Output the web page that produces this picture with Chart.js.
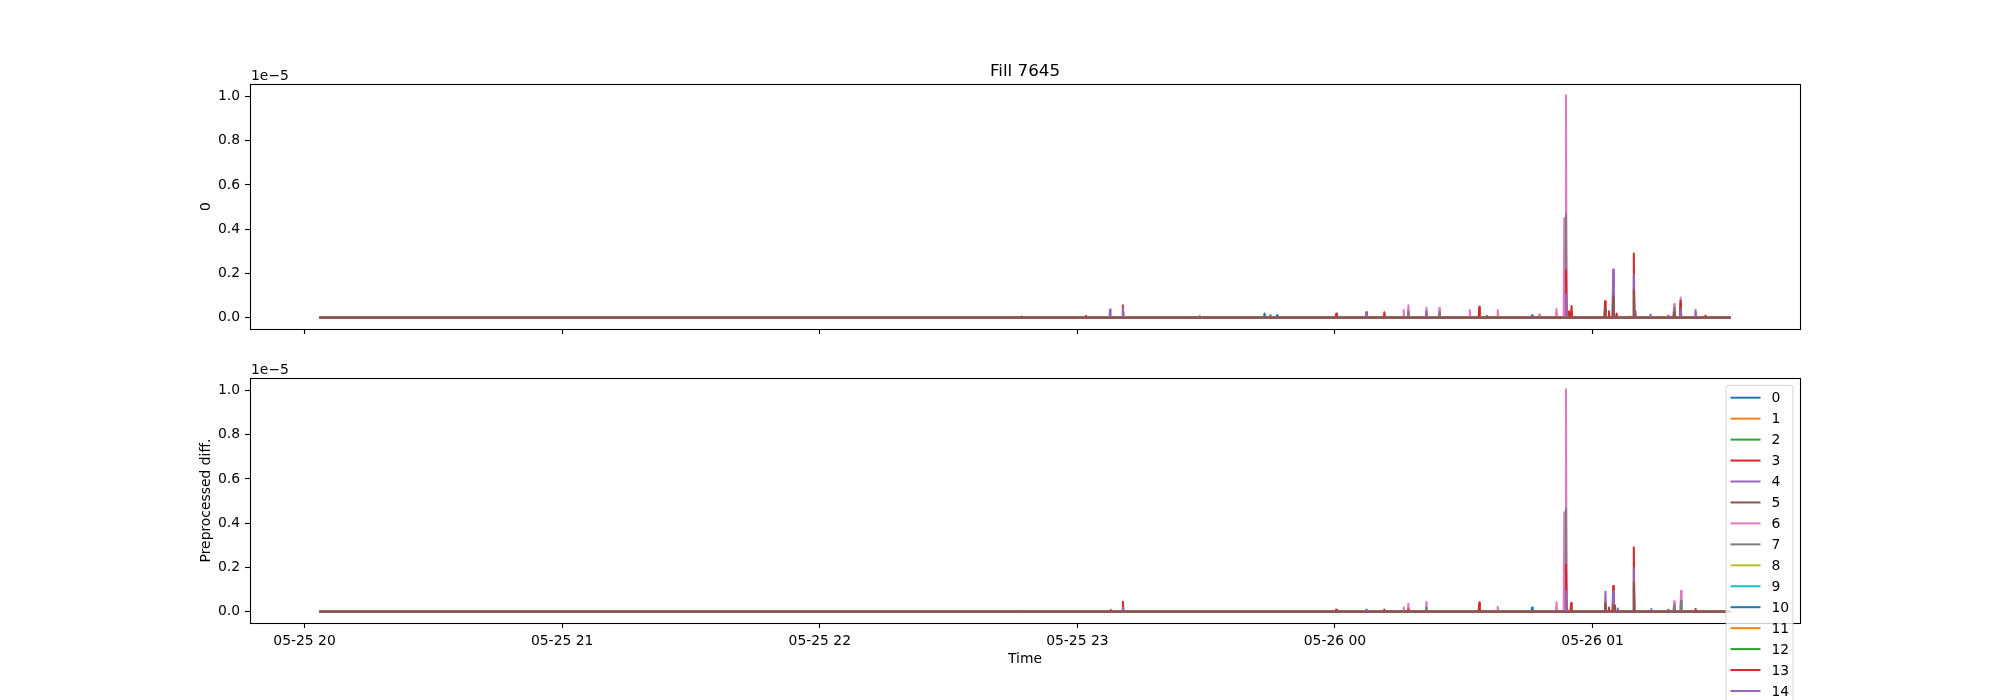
<!DOCTYPE html>
<html>
<head>
<meta charset="utf-8">
<script src="https://cdn.jsdelivr.net/npm/chart.js@4"></script>
<style>
body { margin: 0; background: #fff; }
#wrap { position: relative; width: 2000px; height: 700px; overflow: hidden; }
canvas { position: absolute; left: 0; top: 0; }
</style>
</head>
<body>
<div id="wrap">
<canvas id="topChart" width="2000" height="700"></canvas>
<canvas id="bottomChart" width="2000" height="700"></canvas>
</div>
<script>
// time: minutes after 05-25 20:00, values: units of 1e-5
const dataStart = 3.7
const dataEnd = 331.9
const tickMinutes = [0, 60, 120, 180, 240, 300]
const tickLabels = ['05-25 20', '05-25 21', '05-25 22', '05-25 23', '05-26 00', '05-26 01']
const yTicks = [0, 0.2, 0.4, 0.6, 0.8, 1.0]
const seriesNames = ['0', '1', '2', '3', '4', '5', '6', '7', '8', '9', '10', '11', '12', '13', '14', '15']
const colors = ['#1f77b4', '#ff7f0e', '#2ca02c', '#d62728', '#9467bd', '#8c564b', '#e377c2', '#7f7f7f',
    '#bcbd22', '#17becf', '#1f77b4', '#ff7f0e', '#2ca02c', '#d62728', '#9467bd', '#8c564b']

// spikes above the zero baseline, [minute, value]
const top6 = [[190.6, 0.03], [208.5, 0.01], [240.3, 0.015], [247.3, 0.012], [256.0, 0.035], [257.1, 0.057],
    [261.3, 0.047], [264.3, 0.045], [271.4, 0.035], [277.9, 0.035], [287.6, 0.015], [291.6, 0.04],
    [293.4, 0.45], [293.8, 1.005], [304.8, 0.21], [319.0, 0.062], [320.5, 0.092]]
const top7 = [[224.9, 0.012], [257.1, 0.03], [261.3, 0.02], [264.3, 0.025], [293.8, 0.468], [319.0, 0.045]]
const top10 = [[223.6, 0.02], [226.5, 0.012], [285.9, 0.012]]
const top11 = [[308.5, 0.006]]
const top12 = [[275.4, 0.01], [320.5, 0.065]]
const top13 = [[167.0, 0.006], [182.0, 0.01], [190.6, 0.057], [240.3, 0.02], [247.3, 0.025], [251.5, 0.025],
    [273.6, 0.05], [293.8, 0.215], [294.5, 0.03], [295.1, 0.053], [302.9, 0.075], [303.8, 0.03],
    [305.6, 0.02], [309.6, 0.29], [320.5, 0.078], [326.3, 0.01]]
const top14 = [[187.6, 0.038], [190.6, 0.047], [247.3, 0.02], [261.3, 0.03], [293.8, 0.107], [304.8, 0.218],
    [309.6, 0.196], [310.0, 0.03], [313.5, 0.015], [317.6, 0.01], [320.5, 0.04], [324.0, 0.035]]
const top15 = [[302.9, 0.045], [304.8, 0.098], [309.6, 0.128], [319.0, 0.025]]

const bottom6 = [[240.3, 0.008], [256.0, 0.02], [257.1, 0.037], [261.3, 0.045], [277.9, 0.023], [291.6, 0.043],
    [293.4, 0.45], [293.8, 1.005], [319.0, 0.048], [320.6, 0.095]]
const bottom7 = [[261.3, 0.02], [293.8, 0.468], [319.0, 0.03], [320.6, 0.05]]
const bottom10 = [[285.9, 0.02]]
const bottom11 = [[308.5, 0.005], [320.6, 0.01]]
const bottom13 = [[167.0, 0.005], [187.8, 0.008], [190.6, 0.046], [240.3, 0.01], [251.5, 0.01], [257.1, 0.01],
    [273.6, 0.042], [293.8, 0.214], [295.0, 0.04], [303.8, 0.02], [304.8, 0.117], [305.2, 0.03],
    [309.6, 0.291], [324.0, 0.013]]
const bottom14 = [[190.6, 0.02], [247.3, 0.01], [293.8, 0.093], [303.0, 0.091], [304.8, 0.093], [305.9, 0.015],
    [309.6, 0.198], [313.7, 0.013], [317.6, 0.01]]
const bottom15 = [[303.0, 0.04], [304.8, 0.03], [309.6, 0.133]]

const topSpikes = [[], [], [], [], [], [], top6, top7, [], [], top10, top11, top12, top13, top14, top15]
const bottomSpikes = [[], [], [], [], [], [], bottom6, bottom7, [], [], bottom10, [], [], bottom13, bottom14, bottom15]

const font = 'DejaVu Sans'
const fs = 13.9

function buildPoints(spikes) {
    let pts = [{x: dataStart, y: 0}]
    spikes.slice().sort((a, b) => a[0] - b[0]).forEach(s => {
        pts.push({x: s[0] - 0.15, y: 0}, {x: s[0], y: s[1]}, {x: s[0] + 0.15, y: 0})
    })
    pts.push({x: dataEnd, y: 0})
    return pts
}

function drawLegend(chart) {
    const ctx = chart.ctx
    const a = chart.chartArea
    const right = a.right - 7, top = a.top + 7.3, left = right - 67
    ctx.save()
    ctx.beginPath()
    ctx.roundRect(left, top, right - left, 360, 3)
    ctx.fillStyle = 'rgba(255,255,255,0.8)'
    ctx.fill()
    ctx.strokeStyle = 'rgba(204,204,204,0.8)'
    ctx.lineWidth = 1
    ctx.stroke()
    ctx.font = fs + 'px ' + font
    ctx.textBaseline = 'middle'
    ctx.textAlign = 'left'
    chart.data.datasets.forEach((ds, i) => {
        let y = top + 12.4 + i * 20.95
        ctx.strokeStyle = ds.borderColor
        ctx.lineWidth = 2
        ctx.beginPath()
        ctx.moveTo(left + 4.5, y)
        ctx.lineTo(left + 34.5, y)
        ctx.stroke()
        ctx.fillStyle = '#000'
        ctx.fillText(ds.label, left + 45.5, y + 1)
    })
    ctx.restore()
}

const decor = {
    id: 'decor',
    afterDraw(chart, args, opts) {
        const ctx = chart.ctx
        const a = chart.chartArea
        ctx.save()
        ctx.strokeStyle = '#000'
        ctx.lineWidth = 1.1
        ctx.strokeRect(Math.round(a.left) + 0.5, Math.round(a.top) + 0.5,
            Math.round(a.right - a.left), Math.round(a.bottom - a.top))
        ctx.fillStyle = '#000'
        ctx.font = fs + 'px ' + font
        ctx.textAlign = 'left'
        ctx.textBaseline = 'alphabetic'
        ctx.fillText('1e\u22125', a.left + 1, a.top - 4.5)
        if (opts.title) {
            ctx.font = '16.7px ' + font
            ctx.textAlign = 'center'
            ctx.fillText(opts.title, (a.left + a.right) / 2, a.top - 8.5)
        }
        ctx.restore()
        if (opts.legend) drawLegend(chart)
    }
}

function makeChart(id, spikes, yTitle, axisTop, axisBottom, isBottom, title) {
    const span = dataEnd - dataStart
    const datasets = seriesNames.map((name, i) => ({
        label: name,
        data: buildPoints(spikes[i]),
        borderColor: colors[i],
        borderWidth: 2,
        borderJoinStyle: 'round',
        borderCapStyle: 'square',
        pointRadius: 0,
        fill: false,
        tension: 0,
        order: seriesNames.length - i
    }))
    const config = {
        type: 'line',
        data: {datasets: datasets},
        plugins: [decor],
        options: {
            responsive: false,
            animation: false,
            events: [],
            layout: {padding: {left: 0, right: 200, top: axisTop, bottom: 0}},
            scales: {
                x: {
                    type: 'linear',
                    min: dataStart - 0.05 * span,
                    max: dataEnd + 0.05 * span,
                    afterBuildTicks: s => { s.ticks = tickMinutes.map(v => ({value: v})) },
                    afterFit: s => { s.height = 700 - axisBottom },
                    border: {display: false},
                    grid: {drawOnChartArea: false, drawTicks: true, tickLength: 5, tickColor: '#000', tickWidth: 1.1},
                    ticks: {
                        display: isBottom,
                        autoSkip: false,
                        maxRotation: 0,
                        padding: 5,
                        color: '#000',
                        font: {family: font, size: fs},
                        callback: v => tickLabels[tickMinutes.indexOf(v)]
                    },
                    title: {
                        display: isBottom,
                        text: 'Time',
                        color: '#000',
                        font: {family: font, size: fs},
                        padding: {top: 0, bottom: 32.5}
                    }
                },
                y: {
                    type: 'linear',
                    min: -0.05025,
                    max: 1.05525,
                    afterBuildTicks: s => { s.ticks = yTicks.map(v => ({value: v})) },
                    afterFit: s => { s.width = 250 },
                    border: {display: false},
                    grid: {drawOnChartArea: false, drawTicks: true, tickLength: 5, tickColor: '#000', tickWidth: 1.1},
                    ticks: {
                        padding: 5,
                        color: '#000',
                        font: {family: font, size: fs},
                        callback: v => v.toFixed(1)
                    },
                    title: {
                        display: true,
                        text: yTitle,
                        color: '#000',
                        font: {family: font, size: fs},
                        padding: {top: 198.5, bottom: 0}
                    }
                }
            },
            plugins: {
                legend: {display: false},
                title: {display: false},
                tooltip: {enabled: false},
                decor: {title: title, legend: isBottom}
            }
        }
    }
    return new Chart(document.getElementById(id), config)
}

makeChart('topChart', topSpikes, '0', 84, 329, false, 'Fill 7645')
makeChart('bottomChart', bottomSpikes, 'Preprocessed diff.', 378, 623, true, '')
</script>
</body>
</html>
